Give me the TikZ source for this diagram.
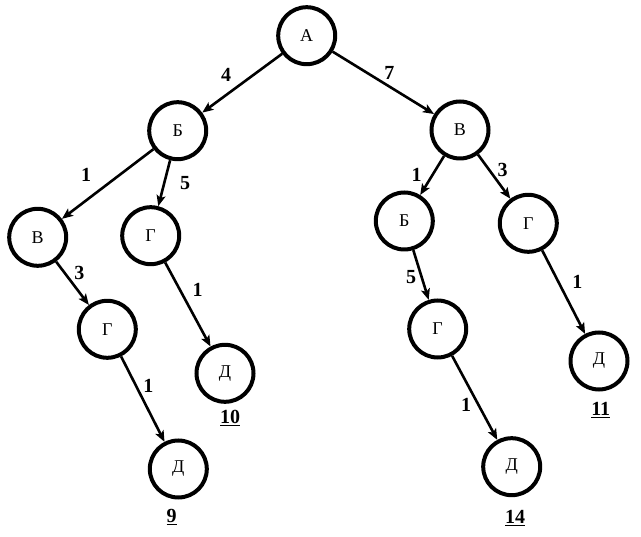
\documentclass[tikz,border=0pt]{standalone}
\usepackage{fontspec}
\setmainfont{Liberation Serif}
\usetikzlibrary{arrows.meta}
\begin{document}
\begin{tikzpicture}[x=1pt,y=-1pt,
  vert/.style={circle,draw=black,line width=4pt,minimum size=57pt,inner sep=0pt,font=\fontsize{18}{18}\selectfont},
  edge/.style={line width=2.6pt,-{Stealth[length=11pt,width=9pt,inset=2.5pt]}},
  wlab/.style={font=\fontsize{20}{20}\selectfont\bfseries,inner sep=0pt},
  cost/.style={font=\fontsize{20}{20}\selectfont\bfseries,inner sep=0pt,anchor=base}]
\useasboundingbox (0,0) rectangle (641,537);
\node[vert] (A) at (306.7,35.7) {А};
\node[vert] (B1) at (177.7,130.7) {Б};
\node[vert] (V1) at (460,130) {В};
\node[vert] (V2) at (37.7,237.3) {В};
\node[vert] (G1) at (150.7,235.7) {Г};
\node[vert] (B2) at (404.3,221) {Б};
\node[vert] (G2) at (528.3,223.3) {Г};
\node[vert] (G3) at (107.3,329.3) {Г};
\node[vert] (D1) at (225,373.3) {Д};
\node[vert] (G4) at (437.7,329) {Г};
\node[vert] (D2) at (599,361) {Д};
\node[vert] (D3) at (178.3,469) {Д};
\node[vert] (D4) at (511.7,466.7) {Д};
\draw[edge] (A) -- (B1);
\draw[edge] (A) -- (V1);
\draw[edge] (B1) -- (V2);
\draw[edge] (B1) -- (G1);
\draw[edge] (V1) -- (B2);
\draw[edge] (V1) -- (G2);
\draw[edge] (V2) -- (G3);
\draw[edge] (G1) -- (D1);
\draw[edge] (B2) -- (G4);
\draw[edge] (G2) -- (D2);
\draw[edge] (G3) -- (D3);
\draw[edge] (G4) -- (D4);
\node[wlab] (w1) at (226,75) {4};
\node[wlab] (w2) at (389.3,72.7) {7};
\node[wlab] (w3) at (86,175) {1};
\node[wlab] (w4) at (185,183.3) {5};
\node[wlab] (w5) at (79.3,273.3) {3};
\node[wlab] (w6) at (197.7,290) {1};
\node[wlab] (w7) at (148.3,386) {1};
\node[wlab] (w8) at (416.7,175) {1};
\node[wlab] (w9) at (502.7,170) {3};
\node[wlab] (w10) at (411,276.7) {5};
\node[wlab] (w11) at (577.3,281.7) {1};
\node[wlab] (w12) at (466,405) {1};
\node[cost] (c1) at (230,424) {\underline{10}};
\node[cost] (c2) at (171.7,523) {\underline{9}};
\node[cost] (c3) at (600.7,416) {\underline{11}};
\node[cost] (c4) at (515,524) {\underline{14}};
\end{tikzpicture}
\end{document}
